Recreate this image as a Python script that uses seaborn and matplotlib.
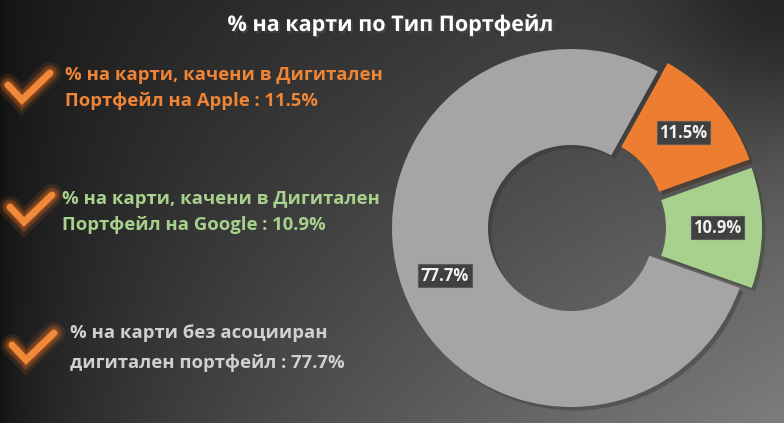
import numpy as np
import seaborn as sns
import matplotlib.pyplot as plt
import matplotlib.patheffects as pe

# data
categories = ["Apple", "Google", "Без портфейл"]
shares = [11.5, 10.9, 77.7]
slice_colors = ["#ED7D31", "#A9D18E", "#A5A5A5"]
side_texts = [
    "% на карти, качени в Дигитален\nПортфейл на Apple : 11.5%",
    "% на карти, качени в Дигитален\nПортфейл на Google : 10.9%",
    "% на карти без асоцииран\nдигитален портфейл : 77.7%",
]
side_colors = ["#EE8436", "#A9D18E", "#D0D0D0"]
title = "% на карти по Тип Портфейл"

sns.set_theme(style="white")
plt.rcParams["font.family"] = ["Open Sans", "DejaVu Sans"]

W, H = 784, 423
fig = plt.figure(figsize=(W / 100, H / 100), dpi=100)

# background gradient
bg = fig.add_axes([0, 0, 1, 1])
xx, yy = np.meshgrid(np.linspace(0, 1, W), np.linspace(0, 1, H))
xp = xx ** 0.6
v = 0.07 + 0.20 * xp + 0.22 * xp * yy
d2 = ((xx - 1) * W) ** 2 + (yy * H) ** 2
v = v * (1 - 0.45 * np.exp(-d2 / (2 * 90 ** 2)))
bg.imshow(np.dstack([v, v, v]), extent=(0, W, H, 0), aspect="auto", zorder=0)
bg.set_xlim(0, W)
bg.set_ylim(H, 0)
bg.axis("off")

# title
bg.text(390, 25, title, color="white", fontsize=15.5, fontweight="bold",
        ha="center", va="center",
        path_effects=[pe.withSimplePatchShadow(offset=(1.5, -1.5), alpha=0.6)])

# side texts with check marks
text_pos = [(65, 88), (62, 212), (70, 348)]
text_spacing = [1.55, 1.55, 1.8]
check_pos = [(8, 85), (10, 207), (12, 345)]
glow = [pe.Stroke(linewidth=16, foreground="#ED7D31", alpha=0.12),
        pe.Stroke(linewidth=11, foreground="#ED7D31", alpha=0.22),
        pe.Stroke(linewidth=8, foreground="#C05010", alpha=0.4),
        pe.Normal()]
for txt, col, (tx, ty), ls, (cx, cy) in zip(side_texts, side_colors, text_pos,
                                            text_spacing, check_pos):
    bg.text(tx, ty, txt, color=col, fontsize=13.3, fontweight="bold",
            ha="left", va="center", linespacing=ls)
    bg.plot([cx, cx + 14, cx + 42], [cy, cy + 15, cy - 12], color="#F08A3A",
            lw=5, solid_capstyle="round", solid_joinstyle="miter",
            path_effects=glow, zorder=3)

# donut chart
ax = fig.add_axes([0, 0, 1, 1])
ax.set_facecolor("none")
cx0, cy0, R, r_in = 571, H - 228, 179, 83
explode_px = [13, 12, 0]
wedges, _, autotexts = ax.pie(
    shares, colors=slice_colors, explode=explode_px, startangle=61,
    counterclock=False, center=(cx0, cy0), radius=R,
    autopct="%.1f%%", pctdistance=(R + r_in) / 2 / R + 0.02,
    wedgeprops=dict(width=R - r_in, linewidth=0),
)
for w in wedges:
    w.set_path_effects([pe.SimplePatchShadow(offset=(2.5, -2.5), alpha=0.4), pe.Normal()])
for t, s in zip(autotexts, shares):
    t.set_text(f"{s:.1f}%")
    t.set_color("#F2F2F2")
    t.set_fontsize(12)
    t.set_fontweight("bold")
    t.set_bbox(dict(boxstyle="square,pad=0.15", facecolor="#404040",
                    edgecolor="#5a5a5a", linewidth=0.8))
ax.set_xlim(0, W)
ax.set_ylim(0, H)
ax.set_aspect("auto")
ax.axis("off")

fig.savefig("out.png", dpi=100)
